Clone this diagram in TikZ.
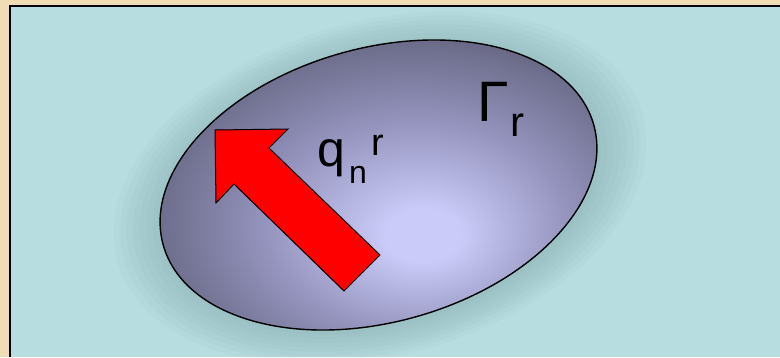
\documentclass[tikz,border=0pt]{standalone}
\usepackage{fontspec}
\setmainfont{Liberation Sans}
\usetikzlibrary{shapes.geometric}
\definecolor{beige}{HTML}{F1DDB3}
\definecolor{cyanbg}{HTML}{B8DDE0}
\definecolor{glow}{HTML}{6E9596}
\definecolor{ellin}{HTML}{CBCBF9}
\definecolor{ellmid}{HTML}{9494BE}
\definecolor{ellout}{HTML}{5D5D77}
\definecolor{arrowred}{HTML}{FF0000}
\pgfdeclareradialshading{ellshade}{\pgfpoint{5bp}{-8bp}}{color(0bp)=(ellin); color(4bp)=(ellin); color(16bp)=(ellmid); color(31bp)=(ellout); color(80bp)=(ellout)}
\tikzset{
  lbl/.style={anchor=base west, inner sep=0pt, text=black},
}
\begin{document}
\begin{tikzpicture}[x=1pt,y=-1pt]
\useasboundingbox (0,0) rectangle (780,357);
\fill[beige] (0,0) rectangle (780,357);
\fill[cyanbg] (10,6) rectangle (780,357);
\begin{scope}
  \clip (10,6) rectangle (780,357);
  \foreach \s in {1.22,1.19,...,1.0}{
    \fill[glow, opacity=0.05, shift={(380,188)}, rotate=15.6] (0,0) ellipse [x radius=\s*223.6pt, y radius=\s*137pt];
  }
\end{scope}
\draw[line width=2pt] (10,357) -- (10,6) -- (780,6);
\node[ellipse, draw=black, line width=1.4pt, shading=ellshade, rotate=15.6,
      minimum width=447pt, minimum height=274pt, inner sep=0pt] (body) at (378.5,185) {};
\draw[fill=arrowred, line width=1pt, line join=miter]
  (215,130) -- (288,129) -- (269,148) -- (380,255) -- (344,291) -- (234,184) -- (216,203) -- cycle;
\node[lbl, font=\fontsize{50}{50}\selectfont] (q) at (317,166) {q};
\node[lbl, font=\fontsize{32}{32}\selectfont] (n) at (349,183) {n};
\node[lbl, font=\fontsize{38}{38}\selectfont] (rsup) at (371,155) {r};
\node[lbl, font=\fontsize{57}{57}\selectfont] (Gamma) at (477,121) {Γ};
\node[lbl, font=\fontsize{42}{42}\selectfont] (rsub) at (510,136) {r};
\end{tikzpicture}
\end{document}
